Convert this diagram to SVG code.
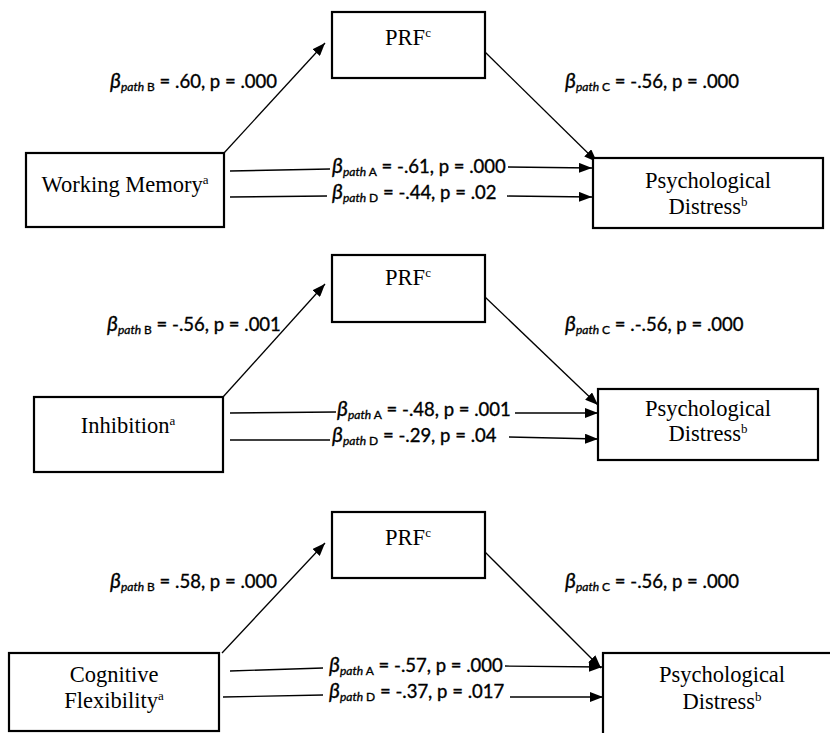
<svg xmlns="http://www.w3.org/2000/svg" width="830" height="733" viewBox="0 0 830 733">
<defs>
<marker id="ah" markerUnits="userSpaceOnUse" markerWidth="13" markerHeight="10" refX="13" refY="5" orient="auto">
<path d="M0,0 L13,5 L0,10 z" fill="#000"/>
</marker>
<style>
.box{fill:#fff;stroke:#000;stroke-width:2.2}
.nt{font-family:"Liberation Serif","Times New Roman",serif;font-size:22.5px;fill:#000;text-anchor:middle}
.sup{font-size:13px}
.ln{stroke:#000;stroke-width:1.3;fill:none}
.arr{stroke:#000;stroke-width:1.3;fill:none;marker-end:url(#ah)}
.lbl{font-family:Lato,"Open Sans","Liberation Sans",sans-serif;font-size:18.5px;fill:#000;stroke:#000;stroke-width:0.35}
.bt{font-style:italic;font-size:21px}
.sp{font-style:italic;font-size:12px}
.su{font-size:12px}
</style>
</defs>
<rect width="830" height="733" fill="#fff"/>

<g id="connectors">
<!-- panel 1 -->
<line class="arr" x1="224" y1="153" x2="325" y2="43"/>
<line class="arr" x1="485" y1="52" x2="597" y2="162"/>
<line class="ln" x1="230" y1="171" x2="330" y2="169"/>
<line class="arr" x1="508" y1="167" x2="592" y2="168"/>
<line class="ln" x1="230" y1="197" x2="327" y2="196"/>
<line class="arr" x1="507" y1="196" x2="592" y2="197"/>
<!-- panel 2 -->
<line class="arr" x1="223" y1="397" x2="325" y2="284"/>
<line class="arr" x1="485" y1="297" x2="598" y2="405"/>
<line class="ln" x1="230" y1="413" x2="336" y2="412"/>
<line class="arr" x1="515" y1="413" x2="598" y2="413"/>
<line class="ln" x1="230" y1="440" x2="330" y2="440"/>
<line class="arr" x1="509" y1="437" x2="598" y2="439"/>
<!-- panel 3 -->
<line class="arr" x1="222" y1="653" x2="325" y2="543"/>
<line class="arr" x1="485" y1="552" x2="601" y2="668"/>
<line class="ln" x1="230" y1="671" x2="323" y2="668"/>
<line class="arr" x1="505" y1="666" x2="602" y2="667"/>
<line class="ln" x1="223" y1="697" x2="323" y2="695"/>
<line class="arr" x1="510" y1="697" x2="603" y2="697"/>
</g>

<g id="labels">
<text class="lbl" x="110" y="88"><tspan class="bt">β</tspan><tspan class="sp" dy="3">path</tspan><tspan class="su"> B</tspan><tspan dy="-3"> = .60, p = .000</tspan></text>
<text class="lbl" x="565" y="88"><tspan class="bt">β</tspan><tspan class="sp" dy="3">path</tspan><tspan class="su"> C</tspan><tspan dy="-3"> = -.56, p = .000</tspan></text>
<text class="lbl" x="332" y="173"><tspan class="bt">β</tspan><tspan class="sp" dy="3">path</tspan><tspan class="su"> A</tspan><tspan dy="-3"> = -.61, p = .000</tspan></text>
<text class="lbl" x="332" y="199"><tspan class="bt">β</tspan><tspan class="sp" dy="3">path</tspan><tspan class="su"> D</tspan><tspan dy="-3"> = -.44, p = .02</tspan></text>

<text class="lbl" x="107" y="331"><tspan class="bt">β</tspan><tspan class="sp" dy="3">path</tspan><tspan class="su"> B</tspan><tspan dy="-3"> = -.56, p = .001</tspan></text>
<text class="lbl" x="565" y="331"><tspan class="bt">β</tspan><tspan class="sp" dy="3">path</tspan><tspan class="su"> C</tspan><tspan dy="-3"> = .-.56, p = .000</tspan></text>
<text class="lbl" x="337" y="416"><tspan class="bt">β</tspan><tspan class="sp" dy="3">path</tspan><tspan class="su"> A</tspan><tspan dy="-3"> = -.48, p = .001</tspan></text>
<text class="lbl" x="332" y="442"><tspan class="bt">β</tspan><tspan class="sp" dy="3">path</tspan><tspan class="su"> D</tspan><tspan dy="-3"> = -.29, p = .04</tspan></text>

<text class="lbl" x="110" y="588"><tspan class="bt">β</tspan><tspan class="sp" dy="3">path</tspan><tspan class="su"> B</tspan><tspan dy="-3"> = .58, p = .000</tspan></text>
<text class="lbl" x="565" y="588"><tspan class="bt">β</tspan><tspan class="sp" dy="3">path</tspan><tspan class="su"> C</tspan><tspan dy="-3"> = -.56, p = .000</tspan></text>
<text class="lbl" x="329" y="672"><tspan class="bt">β</tspan><tspan class="sp" dy="3">path</tspan><tspan class="su"> A</tspan><tspan dy="-3"> = -.57, p = .000</tspan></text>
<text class="lbl" x="329" y="698"><tspan class="bt">β</tspan><tspan class="sp" dy="3">path</tspan><tspan class="su"> D</tspan><tspan dy="-3"> = -.37, p = .017</tspan></text>
</g>

<g id="prf1"><rect class="box" x="332" y="12" width="153" height="66"/><text class="nt" x="408" y="45">PRF<tspan class="sup" dy="-8">c</tspan></text></g>
<g id="wm"><rect class="box" x="26" y="153" width="198" height="74"/><text class="nt" x="125" y="192">Working Memory<tspan class="sup" dy="-8">a</tspan></text></g>
<g id="pd1"><rect class="box" x="593" y="158" width="230" height="70"/><text class="nt" x="708" y="188">Psychological</text><text class="nt" x="708" y="214">Distress<tspan class="sup" dy="-8">b</tspan></text></g>

<g id="prf2"><rect class="box" x="332" y="255" width="153" height="67"/><text class="nt" x="408" y="285">PRF<tspan class="sup" dy="-8">c</tspan></text></g>
<g id="inh"><rect class="box" x="34" y="397" width="189" height="75"/><text class="nt" x="128" y="433">Inhibition<tspan class="sup" dy="-8">a</tspan></text></g>
<g id="pd2"><rect class="box" x="598" y="389" width="220" height="71"/><text class="nt" x="708" y="416">Psychological</text><text class="nt" x="708" y="441">Distress<tspan class="sup" dy="-8">b</tspan></text></g>

<g id="prf3"><rect class="box" x="332" y="512" width="153" height="66"/><text class="nt" x="408" y="545">PRF<tspan class="sup" dy="-8">c</tspan></text></g>
<g id="cf"><rect class="box" x="9" y="653" width="210" height="78"/><text class="nt" x="114" y="682">Cognitive</text><text class="nt" x="114" y="708">Flexibility<tspan class="sup" dy="-8">a</tspan></text></g>
<g id="pd3"><rect class="box" x="603" y="653" width="240" height="100"/><text class="nt" x="722" y="682">Psychological</text><text class="nt" x="722" y="709">Distress<tspan class="sup" dy="-8">b</tspan></text></g>
</svg>
